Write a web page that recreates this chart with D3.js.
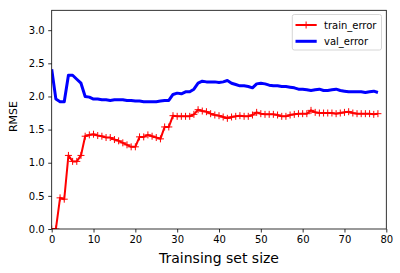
<!DOCTYPE html>
<html><head><meta charset="utf-8">
<script src="https://cdn.jsdelivr.net/npm/d3@7"></script>
<style>
html,body{margin:0;padding:0;background:#fff;}
svg{display:block;font-family:"DejaVu Sans",sans-serif;}
</style></head><body>
<svg id="chart" width="400" height="273"></svg>
<script>
const trainError = [0,0,0.47,0.45,1.11,1.02,1.02,1.11,1.40,1.42,
1.43,1.41,1.40,1.38,1.38,1.35,1.33,1.30,1.27,1.24,
1.24,1.39,1.39,1.42,1.40,1.38,1.36,1.54,1.54,1.71,
1.70,1.70,1.70,1.70,1.73,1.80,1.78,1.77,1.74,1.72,
1.71,1.69,1.67,1.69,1.70,1.71,1.70,1.70,1.72,1.76,
1.74,1.73,1.73,1.73,1.72,1.70,1.70,1.72,1.73,1.74,
1.74,1.74,1.79,1.76,1.75,1.75,1.75,1.75,1.74,1.75,
1.76,1.77,1.75,1.74,1.74,1.74,1.74,1.73,1.74];
const valError = [2.41,1.96,1.92,1.92,2.32,2.32,2.26,2.20,2.00,1.99,
1.96,1.96,1.95,1.95,1.94,1.95,1.95,1.95,1.94,1.94,
1.93,1.93,1.92,1.92,1.92,1.92,1.93,1.94,1.94,2.03,
2.05,2.04,2.07,2.07,2.11,2.20,2.23,2.22,2.22,2.22,
2.21,2.22,2.24,2.20,2.18,2.16,2.16,2.15,2.13,2.19,
2.20,2.19,2.17,2.16,2.16,2.15,2.15,2.14,2.13,2.11,
2.11,2.10,2.09,2.10,2.11,2.09,2.09,2.10,2.11,2.09,
2.08,2.07,2.07,2.07,2.07,2.06,2.07,2.08,2.06];
const xTicks = [0,10,20,30,40,50,60,70,80];
const yTicks = [0,0.5,1.0,1.5,2.0,2.5,3.0];
const seriesNames = ["train_error","val_error"];
const xLabel = "Trainsing set size";
const yLabel = "RMSE";

const svg = d3.select("#chart");
const W = 400, H = 273;
const m = {left:51.7, right:13.7, top:10.3, bottom:44};
const x = d3.scaleLinear().domain([0,80]).range([m.left, W-m.right]);
const y = d3.scaleLinear().domain([0,3.3]).range([H-m.bottom, m.top]);

const g = svg.append("g");
svg.append("clipPath").attr("id","clip").append("rect")
  .attr("x",m.left).attr("y",m.top).attr("width",W-m.left-m.right).attr("height",H-m.top-m.bottom);

const plot = g.append("g").attr("clip-path","url(#clip)");
const idx = d3.range(trainError.length);
const line = arr => d3.line().x(i=>x(i)).y(i=>y(arr[i]))(idx);

plot.append("path").attr("d", line(trainError)).attr("fill","none")
  .attr("stroke","#ff0000").attr("stroke-width",2).attr("stroke-linejoin","round");
plot.selectAll(".mk").data(idx).enter().append("path")
  .attr("d", i=>`M${x(i)-3.5},${y(trainError[i])}h7M${x(i)},${y(trainError[i])-3.5}v7`)
  .attr("stroke","#ff0000").attr("stroke-width",1);
plot.append("path").attr("d", line(valError)).attr("fill","none")
  .attr("stroke","#0000ff").attr("stroke-width",3).attr("stroke-linejoin","round");

const xAxis = d3.axisBottom(x).tickValues(xTicks).tickFormat(d3.format("d")).tickSize(3.5).tickPadding(3.5);
const yAxis = d3.axisLeft(y).tickValues(yTicks).tickFormat(d3.format(".1f")).tickSize(3.5).tickPadding(3.5);
const gx = g.append("g").attr("transform",`translate(0,${H-m.bottom})`).call(xAxis);
const gy = g.append("g").attr("transform",`translate(${m.left},0)`).call(yAxis);
[gx,gy].forEach(a=>{
  a.select(".domain").remove();
  a.selectAll("line").attr("stroke","#000").attr("stroke-width",0.8);
  a.selectAll("text").attr("fill","#000").style("font-size","10px").style("font-family","DejaVu Sans");
});
g.append("rect").attr("x",m.left).attr("y",m.top).attr("width",W-m.left-m.right).attr("height",H-m.top-m.bottom)
  .attr("fill","none").attr("stroke","#000").attr("stroke-width",0.8);

g.append("text").attr("x",(m.left+W-m.right)/2).attr("y",263).attr("text-anchor","middle")
  .style("font-size","14px").attr("fill","#000").text(xLabel);
g.append("text").attr("transform",`translate(17.3,116.5) rotate(-90)`).attr("text-anchor","middle")
  .style("font-size","11px").attr("fill","#000").text(yLabel);

const lg = g.append("g");
lg.append("rect").attr("x",292.3).attr("y",14.5).attr("width",89.2).attr("height",35.5).attr("rx",2)
  .attr("fill","#fff").attr("fill-opacity",0.8).attr("stroke","#cccccc").attr("stroke-width",0.8);
const items = [{name:seriesNames[0],color:"#ff0000",w:2,marker:true,yy:25},
               {name:seriesNames[1],color:"#0000ff",w:3,marker:false,yy:41.3}];
items.forEach(it=>{
  lg.append("line").attr("x1",295.5).attr("x2",316.7).attr("y1",it.yy).attr("y2",it.yy)
    .attr("stroke",it.color).attr("stroke-width",it.w);
  if(it.marker) lg.append("path").attr("d",`M302.6,${it.yy}h7M306.1,${it.yy-3.5}v7`).attr("stroke",it.color).attr("stroke-width",1);
  lg.append("text").attr("x",324).attr("y",it.yy).attr("dy","0.35em").style("font-size","10px").attr("fill","#000").text(it.name);
});
</script>
</body></html>
